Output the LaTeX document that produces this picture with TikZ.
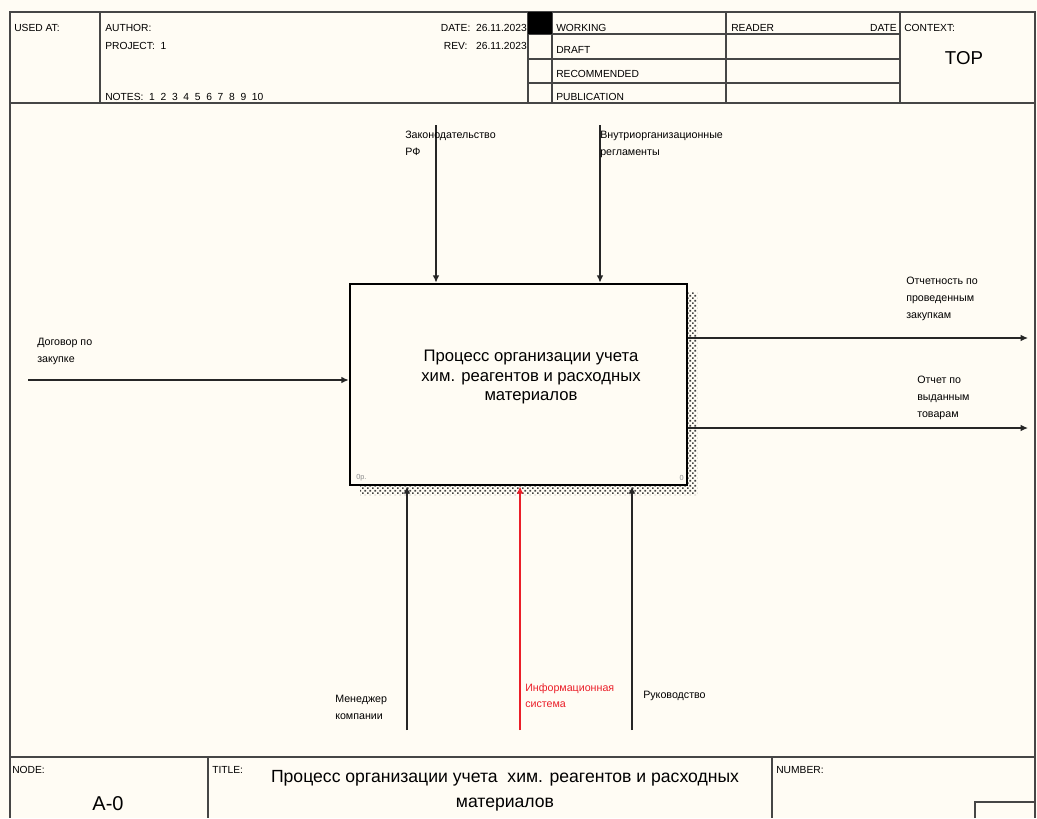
\documentclass[tikz,border=0pt]{standalone}
\usepackage{fontspec}
\setmainfont{Liberation Sans}
\usetikzlibrary{arrows.meta,positioning,patterns}
\definecolor{paper}{RGB}{255,252,244}
\definecolor{framegray}{RGB}{70,70,70}
\definecolor{infored}{RGB}{235,30,40}
\pgfdeclarepatternformonly{shadowhatch}{\pgfpointorigin}{\pgfpoint{4pt}{4pt}}{\pgfpoint{4pt}{4pt}}{
  \pgfpathrectangle{\pgfpointorigin}{\pgfpoint{1.4pt}{1.4pt}}
  \pgfpathrectangle{\pgfpoint{2pt}{2pt}}{\pgfpoint{1.4pt}{1.4pt}}
  \pgfusepath{fill}}

\begin{document}
\begin{tikzpicture}[x=0.75pt,y=-0.75pt,
    lbl/.style={font=\fontsize{8}{12.5}\selectfont,align=left,inner sep=0pt,anchor=north west},
    hdr/.style={font=\fontsize{7.7}{9}\selectfont,inner sep=0pt,anchor=base west},
    corner/.style={font=\fontsize{5.5}{6}\selectfont,text=black!45,inner sep=0pt},
    arr/.style={-{Latex[length=5.5pt,width=5pt]},line width=1pt,black!85},
    grid/.style={line width=1.3pt,framegray}]
  \fill[paper] (0,0) rectangle (1037,818);
  \useasboundingbox (0,0) rectangle (1037,818);
  % frame and header table
  \draw[grid] (10,12) rectangle (1035,103);
  \draw[grid] (10,103) -- (10,818) (1035,103) -- (1035,818) (10,757) -- (1035,757);
  \foreach \x in {100,528,552,726,900} \draw[grid] (\x,12) -- (\x,103);
  \foreach \y in {34,59,83} \draw[grid] (528,\y) -- (900,\y);
  \fill[black] (528,12) rectangle (552,34);
  \draw[grid] (208,757) -- (208,818) (772,757) -- (772,818) (975,818) -- (975,802) -- (1035,802);
  \node[hdr] (usedat) at (14,31) {USED AT:};
  \node[hdr] (author) at (105,31) {AUTHOR:};
  \node[hdr] (project) at (105,49) {PROJECT:\ \ 1};
  \node[hdr] (notes) at (105,100) {NOTES:\ \ 1\ \ 2\ \ 3\ \ 4\ \ 5\ \ 6\ \ 7\ \ 8\ \ 9\ \ 10};
  \node[hdr,anchor=base east] (date) at (527,31) {DATE:\ \ 26.11.2023};
  \node[hdr,anchor=base east] (rev) at (527,49) {REV:\ \ \ 26.11.2023};
  \node[hdr] (working) at (556,31) {WORKING};
  \node[hdr] (draft) at (556,53) {DRAFT};
  \node[hdr] (recomm) at (556,77) {RECOMMENDED};
  \node[hdr] (publ) at (556,100) {PUBLICATION};
  \node[hdr] (reader) at (731,31) {READER};
  \node[hdr,anchor=base east] (rdate) at (897,31) {DATE};
  \node[hdr] (context) at (904,31) {CONTEXT:};
  \node[font=\fontsize{14}{16}\selectfont,inner sep=0pt] (top) at (964,58) {TOP};
  % footer
  \node[hdr] (nodelbl) at (12,773) {NODE:};
  \node[font=\fontsize{15}{17}\selectfont,inner sep=0pt] (nodeno) at (108,804) {A-0};
  \node[hdr] (titlelbl) at (212,773) {TITLE:};
  \node[font=\fontsize{13.2}{19}\selectfont,align=center,inner sep=0pt] (title) at (505,791)
    {Процесс организации учета\ \ хим. реагентов и расходных\\материалов};
  \node[hdr] (numberlbl) at (776,773) {NUMBER:};
  % activity box with shadow
  \fill[pattern=shadowhatch,pattern color=black!75] (687,292) -- (697,292) -- (697,495) -- (360,495) -- (360,485) -- (687,485) -- cycle;
  \node[draw=black,line width=2pt,fill=paper,minimum width=252.75pt,minimum height=150.75pt,inner sep=0pt] (proc) at (518.5,384.5) {};
  \node[font=\fontsize{12.5}{14.5}\selectfont,align=center,inner sep=0pt] (proctext) at (531,377)
    {Процесс организации учета\\хим. реагентов и расходных\\материалов};
  \node[corner,anchor=south west] (cost) at (356,481) {0р.};
  \node[corner,anchor=south east] (boxno) at (684,481) {0};
  % controls
  \coordinate (lawsrc) at (436,125);
  \coordinate (regsrc) at (600,125);
  \draw[arr] (lawsrc) -- (lawsrc |- proc.north);
  \draw[arr] (regsrc) -- (regsrc |- proc.north);
  \node[lbl] (lawlbl) at (405,131) {Законодательство\\РФ};
  \node[lbl] (reglbl) at (600,131) {Внутриорганизационные\\регламенты};
  % input
  \coordinate (contractsrc) at (28,380);
  \draw[arr] (contractsrc) -- (contractsrc -| proc.west);
  \node[lbl] (contractlbl) at (37,338) {Договор по\\закупке};
  % outputs
  \coordinate (rep1dst) at (1028,338);
  \coordinate (rep2dst) at (1028,428);
  \draw[arr] (rep1dst -| proc.east) -- (rep1dst);
  \draw[arr] (rep2dst -| proc.east) -- (rep2dst);
  \node[lbl] (rep1lbl) at (906,277) {Отчетность по\\проведенным\\закупкам};
  \node[lbl] (rep2lbl) at (917,376) {Отчет по\\выданным\\товарам};
  % mechanisms
  \coordinate (mgrsrc) at (407,730);
  \coordinate (infosrc) at (520,730);
  \coordinate (bosssrc) at (632,730);
  \draw[arr] (mgrsrc) -- (mgrsrc |- proc.south);
  \draw[arr,infored] (infosrc) -- (infosrc |- proc.south);
  \draw[arr] (bosssrc) -- (bosssrc |- proc.south);
  \node[lbl] (mgrlbl) at (335,695) {Менеджер\\компании};
  \node[lbl,text=infored] (infolbl) at (525,683) {Информационная\\система};
  \node[lbl] (bosslbl) at (643,691) {Руководство};
\end{tikzpicture}
\end{document}
